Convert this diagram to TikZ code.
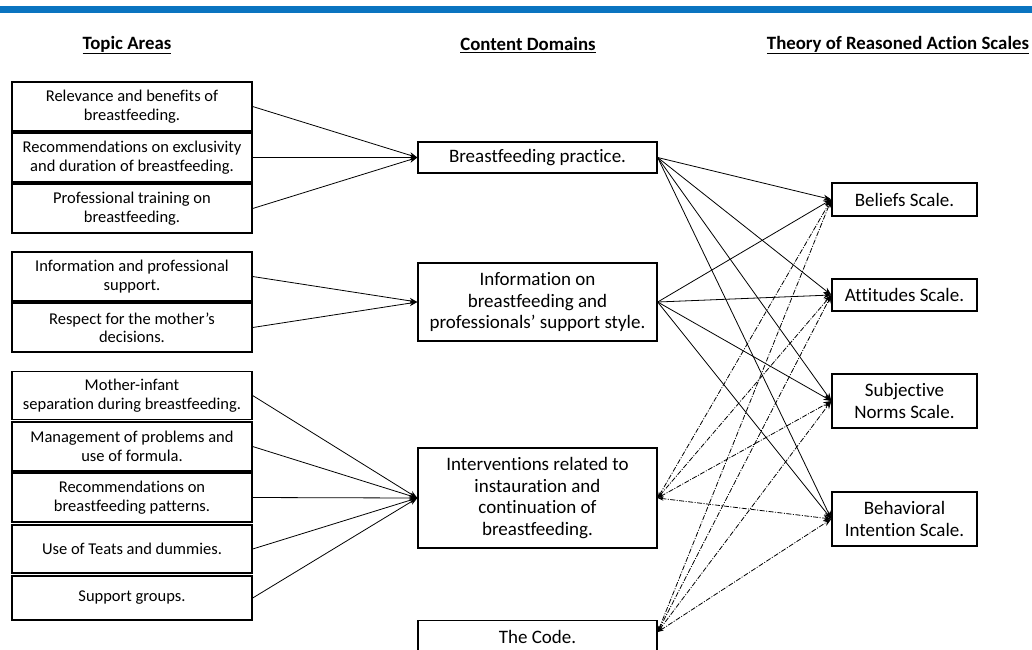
\documentclass[tikz,border=0pt]{standalone}
\usepackage{fontspec}
\setmainfont[RawFeature=-liga]{Carlito}
\usetikzlibrary{arrows.meta}
\definecolor{barblue}{RGB}{10,116,192}
\tikzset{
  box/.style={draw=black, line width=1.3pt, fill=white, align=center, inner sep=1pt},
  lbox/.style={box, minimum width=240pt, font=\fontsize{16.5}{18.5}\selectfont},
  mbox/.style={box, minimum width=239pt, font=\fontsize{19}{21.7}\selectfont},
  rbox/.style={box, minimum width=145pt, font=\fontsize{19}{22.5}\selectfont},
  head/.style={font=\fontsize{18.8}{20}\selectfont\bfseries, inner sep=0pt},
  conn/.style={line width=0.8pt, -{Stealth[length=8pt,width=6pt]}},
  dconn/.style={line width=0.8pt, dash pattern=on 5pt off 1.5pt on 1pt off 1.5pt,
    {Stealth[length=6pt,width=4pt]}-{Stealth[length=8pt,width=6pt]}}
}
\begin{document}
\begin{tikzpicture}[x=1pt,y=-1pt]
\clip (0,0) rectangle (1032,649);
\fill[white] (0,0) rectangle (1032,649);
\fill[barblue] (0,6) rectangle (1032,13);
% headers
\node[head] (h1) at (127,45) {\underline{Topic Areas}};
\node[head] (h2) at (528,45) {\underline{Content Domains}};
\node[head] (h3) at (898,45) {\underline{Theory of Reasoned Action Scales}};
% left boxes
\node[lbox, minimum height=49pt] (L1) at (132,106.5) {Relevance and benefits of\\breastfeeding.};
\node[lbox, minimum height=49pt] (L2) at (132,157.5) {Recommendations on exclusivity\\and duration of breastfeeding.};
\node[lbox, minimum height=49pt] (L3) at (132,208.5) {Professional training on\\breastfeeding.};
\node[lbox, minimum height=49pt] (L4) at (132,276.5) {Information and professional\\support.};
\node[lbox, minimum height=49pt] (L5) at (132,327.5) {Respect for the mother’s\\decisions.};
\node[lbox, minimum height=48pt] (L6) at (132,395.5) {Mother-infant\\separation during breastfeeding.};
\node[lbox, minimum height=49pt] (L7) at (132,446.5) {Management of problems and\\use of formula.};
\node[lbox, minimum height=49pt] (L8) at (132,497.5) {Recommendations on\\breastfeeding patterns.};
\node[lbox, minimum height=48pt] (L9) at (132,549) {Use of Teats and dummies.};
\node[lbox, minimum height=44pt] (L10) at (132,598) {Support groups.};
% middle boxes
\node[mbox, minimum height=31pt] (M1) at (537.5,157.5) {Breastfeeding practice.};
\node[mbox, minimum height=78pt] (M2) at (537.5,302) {Information on\\breastfeeding and\\professionals’ support style.};
\node[mbox, minimum height=100pt] (M3) at (537.5,498) {Interventions related to\\instauration and\\continuation of\\breastfeeding.};
\node[mbox, minimum height=33pt, anchor=north] (M4) at (537.5,620) {The Code.};
% right boxes
\node[rbox, minimum height=33pt] (R1) at (904.5,199.5) {Beliefs Scale.};
\node[rbox, minimum height=32pt] (R2) at (904.5,295) {Attitudes Scale.};
\node[rbox, minimum height=54pt] (R3) at (904.5,401) {Subjective\\Norms Scale.};
\node[rbox, minimum height=54pt] (R4) at (904.5,519) {Behavioral\\Intention Scale.};
% left to middle
\foreach \s in {L1,L2,L3} \draw[conn] (\s.east) -- (M1.west);
\foreach \s in {L4,L5} \draw[conn] (\s.east) -- (M2.west);
\foreach \s in {L6,L7,L8,L9,L10} \draw[conn] (\s.east) -- (M3.west);
% middle to right
\coordinate (m4e) at ([yshift=-12pt]M4.north east);
\foreach \t in {R1,R2,R3,R4} {
  \draw[conn] (M1.east) -- (\t.west);
  \draw[conn] (M2.east) -- (\t.west);
  \draw[dconn] (M3.east) -- (\t.west);
  \draw[dconn] (m4e) -- (\t.west);
}
\end{tikzpicture}
\end{document}
